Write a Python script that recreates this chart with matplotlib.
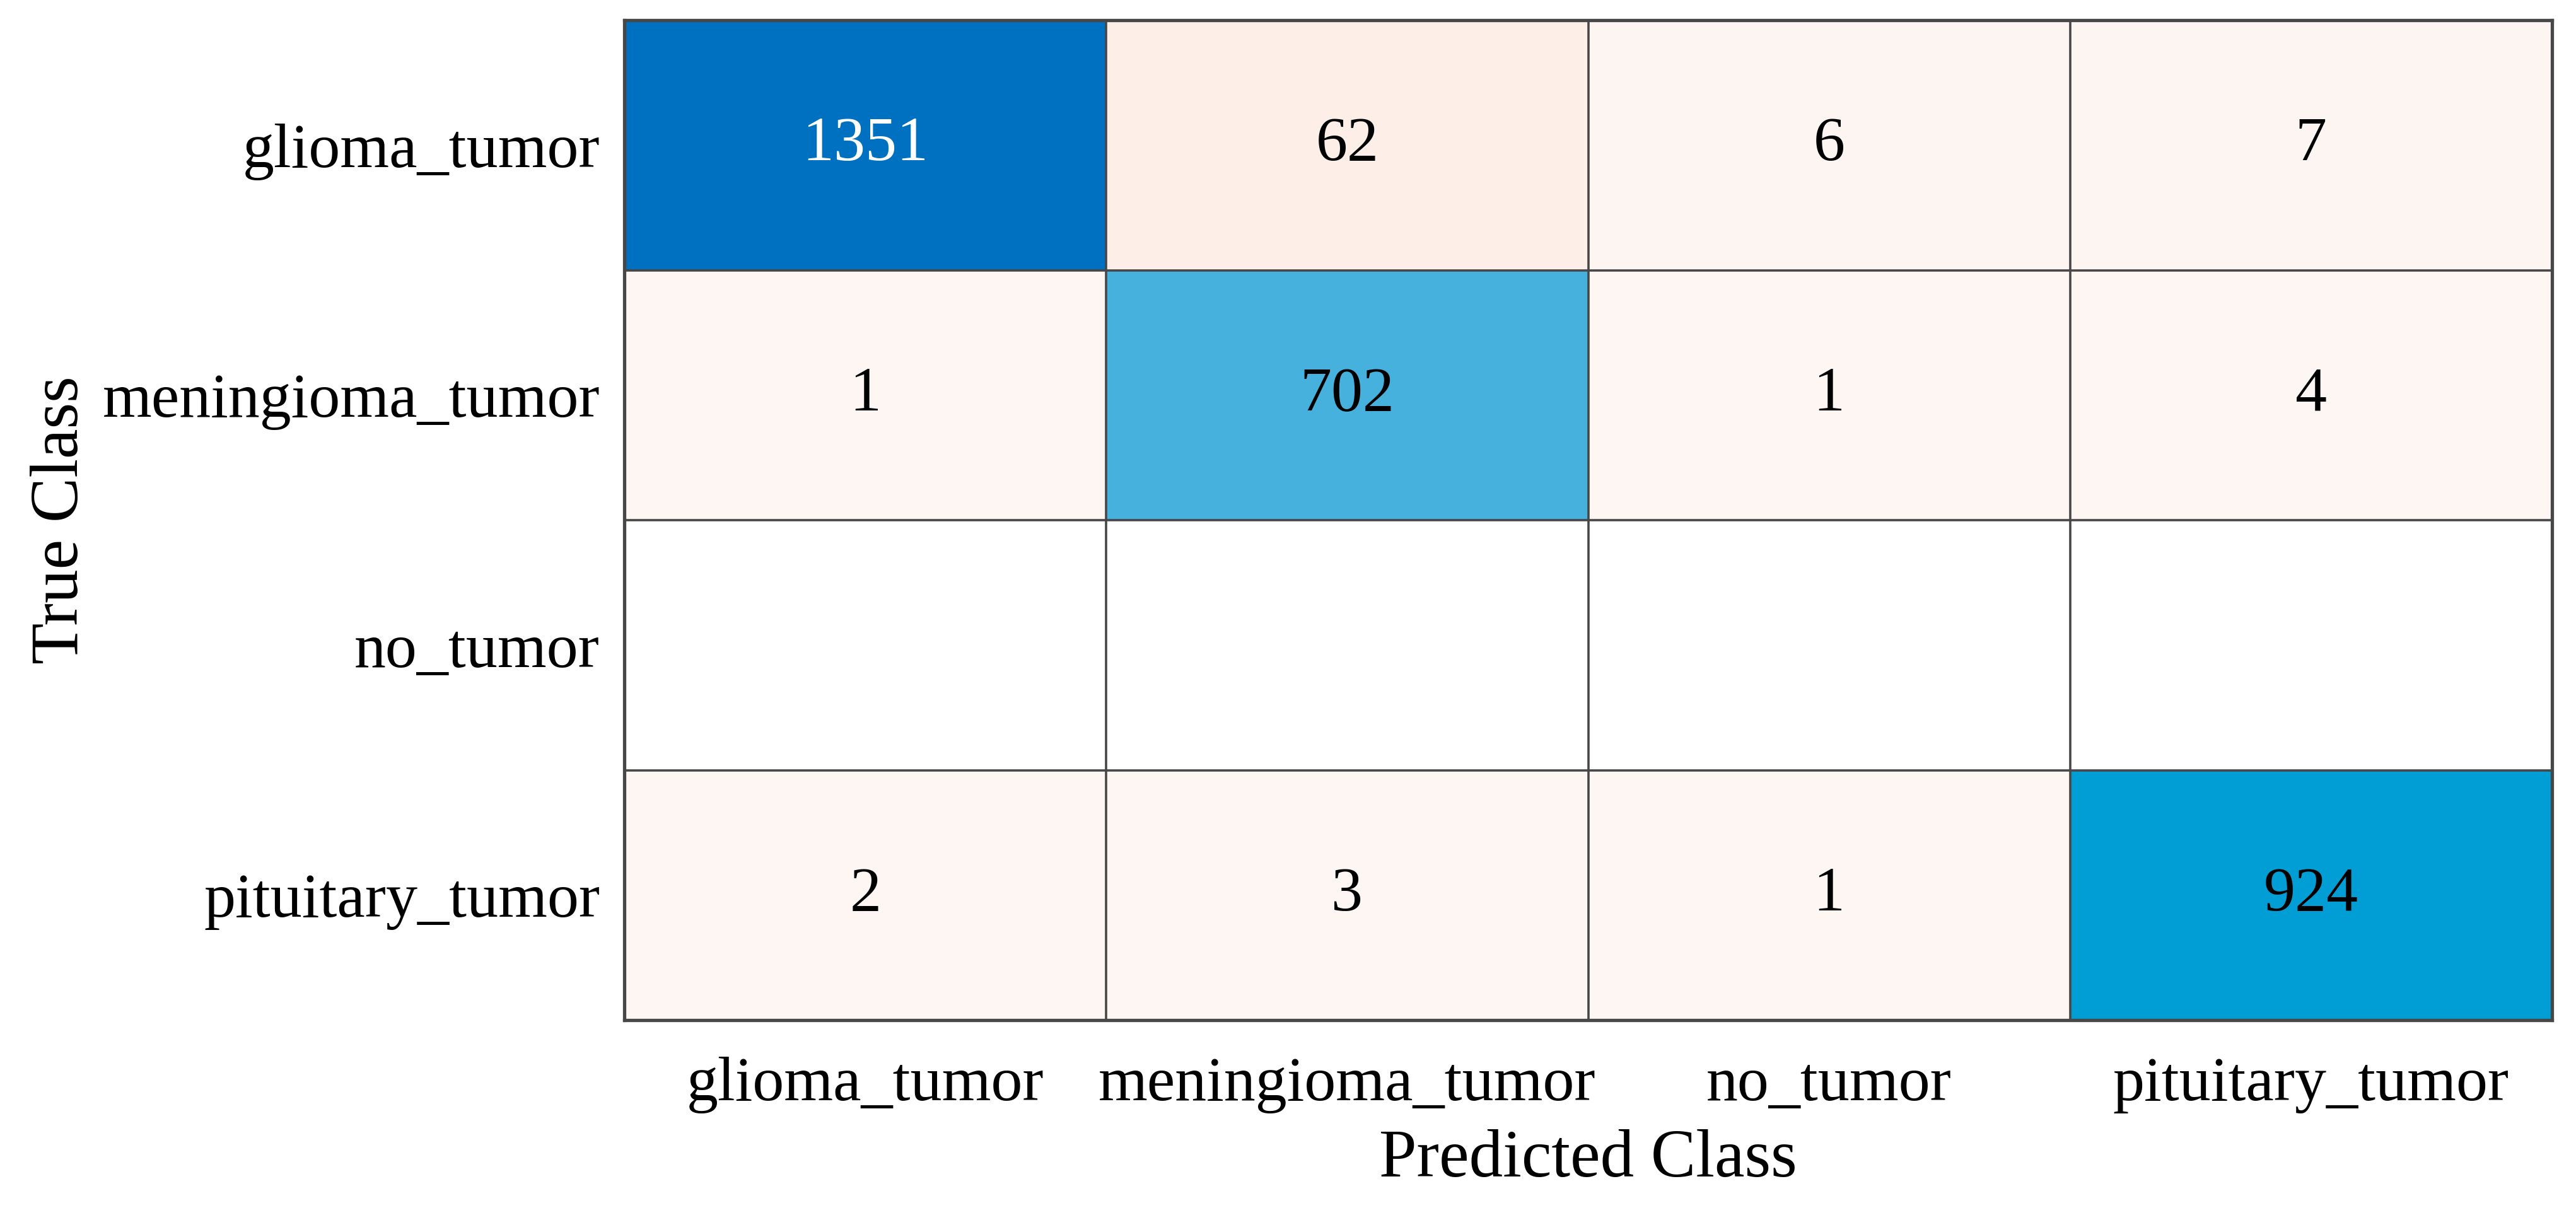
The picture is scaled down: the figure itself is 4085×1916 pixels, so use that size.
import numpy as np
import matplotlib
matplotlib.use("Agg")
import matplotlib.pyplot as plt
from matplotlib.colors import LinearSegmentedColormap, Normalize

classes = ["glioma_tumor", "meningioma_tumor", "no_tumor", "pituitary_tumor"]
row_glioma = [1351, 62, 6, 7]
row_meningioma = [1, 702, 1, 4]
row_no = [0, 0, 0, 0]
row_pituitary = [2, 3, 1, 924]
counts = np.array([row_glioma, row_meningioma, row_no, row_pituitary])

plt.rcParams["font.family"] = ["Liberation Serif", "DejaVu Serif"]

diag_cmap = LinearSegmentedColormap.from_list(
    "diag",
    [(0.0, "#ffffff"), (0.52, "#46b2dd"), (0.684, "#009fd6"), (1.0, "#0071c1")],
)
off_cmap = LinearSegmentedColormap.from_list(
    "off",
    [(0.0, "#fef6f3"), (0.05, "#fdede6"), (1.0, "#d95319")],
)

n = len(classes)
vmax = counts.max()
norm = Normalize(0, vmax)
rgb = np.ones((n, n, 3))
for i in range(n):
    for j in range(n):
        v = counts[i, j]
        if v == 0:
            continue
        cm = diag_cmap if i == j else off_cmap
        rgb[i, j] = cm(norm(v))[:3]

fig = plt.figure(figsize=(40.85, 19.16), dpi=100)
ax = fig.add_axes([990 / 4085, 1 - 1618 / 1916, (4047 - 990) / 4085, (1618 - 32) / 1916])
ax.imshow(rgb, aspect="auto", extent=(-0.5, n - 0.5, n - 0.5, -0.5), interpolation="nearest")

for i in range(n):
    for j in range(n):
        v = counts[i, j]
        if v == 0:
            continue
        color = "white" if (i == j and v == vmax) else "black"
        ax.text(j, i, str(v), ha="center", va="center", fontsize=72, color=color)

ax.set_xticks(range(n))
ax.set_yticks(range(n))
ax.set_xticklabels(classes, fontsize=72)
ax.set_yticklabels(classes, fontsize=72)
ax.tick_params(axis="x", length=0, pad=42)
ax.tick_params(axis="y", length=0, pad=28)
ax.set_xticks(np.arange(-0.5, n, 1), minor=True)
ax.set_yticks(np.arange(-0.5, n, 1), minor=True)
ax.tick_params(which="minor", length=0)
ax.grid(which="minor", color="#474747", linewidth=2.6)
ax.grid(which="major", visible=False)
for s in ax.spines.values():
    s.set_color("#474747")
    s.set_linewidth(3.8)
ax.set_xlim(-0.5, n - 0.5)
ax.set_ylim(n - 0.5, -0.5)
ax.set_xlabel("Predicted Class", fontsize=77, labelpad=18)
ax.set_ylabel("True Class", fontsize=77, labelpad=12)

fig.savefig("out.png", dpi=100)
